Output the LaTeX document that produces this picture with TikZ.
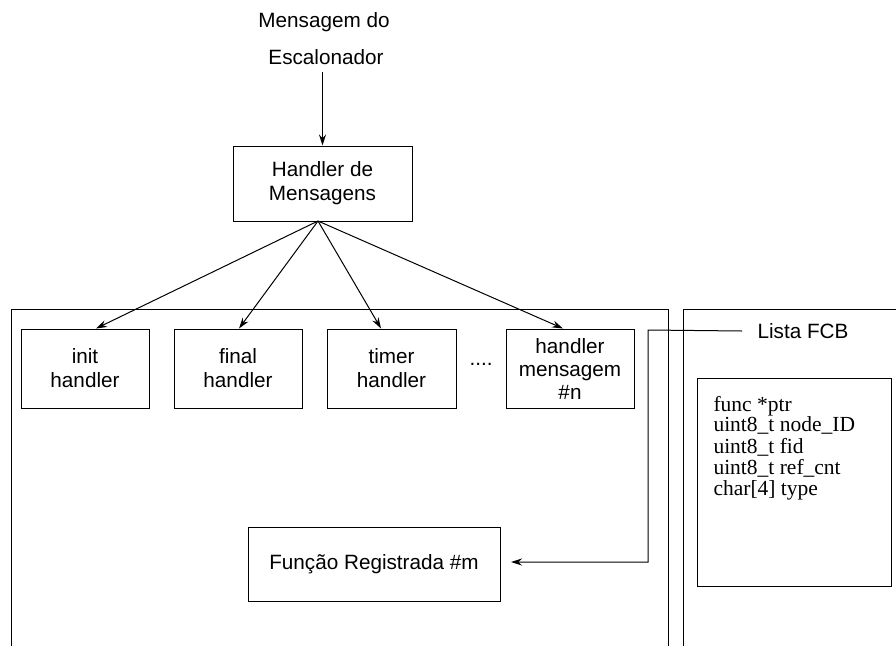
\documentclass[tikz,border=0pt]{standalone}
\usepackage{fontspec}
\setmainfont{Liberation Serif}
\setsansfont{Liberation Sans}
\usetikzlibrary{arrows.meta}
\begin{document}
\begin{tikzpicture}[x=1pt,y=-1pt,line width=1pt,
  lbl/.style={font=\sffamily\fontsize{20.7}{24}\selectfont, align=center, inner sep=0pt},
  box/.style={draw, lbl, minimum width=128pt, minimum height=79pt},
  arr/.style={-{Stealth[length=11pt,width=7pt]}},
  frame/.style={line width=1pt}]
\useasboundingbox (0,0) rectangle (896,646);

% incoming message
\node[lbl] (msg1) at (324,22) {Mensagem do};
\node[lbl] (msg2) at (326,57) {Escalonador};
\coordinate (msgout) at (322.5,72);

% central dispatcher
\node[box, minimum width=179pt, minimum height=75pt] (hm) at (322.5,183.5) {Handler de\\Mensagens};
\coordinate (apex) at (318,221);
\draw[arr] (msgout) -- (hm.north);

% enclosing frames
\draw[frame] (11,646) -- (11,309) -- (668,309) -- (668,646);
\draw[frame] (683,646) -- (683,309) -- (896,309);

% message handlers
\node[box] (init)  at (85,368.5)  {init\\handler};
\node[box] (final) at (238,368.5) {final\\handler};
\node[box, minimum width=129pt] (timer) at (391.5,368.5) {timer\\handler};
\node[lbl] (dots) at (481,364) {....};
\node[box, font=\sffamily\fontsize{20.7}{23}\selectfont] (hmn) at (570,368.5) {handler\\mensagem\\\#n};

\draw[arr] (apex) -- ([xshift=11pt]init.north);
\draw[arr] (apex) -- ([xshift=1pt]final.north);
\draw[arr] (apex) -- ([xshift=-10.5pt]timer.north);
\draw[arr] (apex) -- ([xshift=-7pt]hmn.north);

% registered function
\node[box, minimum width=252pt, minimum height=74pt] (func) at (374,564) {Função Registrada \#m};

% FCB list
\node[lbl] (lista) at (803,331) {Lista FCB};
\node[draw, minimum width=194pt, minimum height=208pt, inner sep=0pt] (fcb) at (794,482) {};
\node[anchor=base west, inner sep=0pt] (fields) at (713,411)
  {\fontsize{21.5}{20}\selectfont\begin{tabular}[t]{@{}l@{}}
    func *ptr\\uint8\_t node\_ID\\uint8\_t fid\\uint8\_t ref\_cnt\\char[4] type
  \end{tabular}};

\coordinate (bendA) at (648,330);
\coordinate (bendB) at (648,562);
\coordinate (tip) at (511,562);
\path (lista.west) ++(-15pt,0) coordinate (lstart);
\draw[arr] (lstart) -- (bendA) -- (bendB) -- (tip);
\end{tikzpicture}
\end{document}
